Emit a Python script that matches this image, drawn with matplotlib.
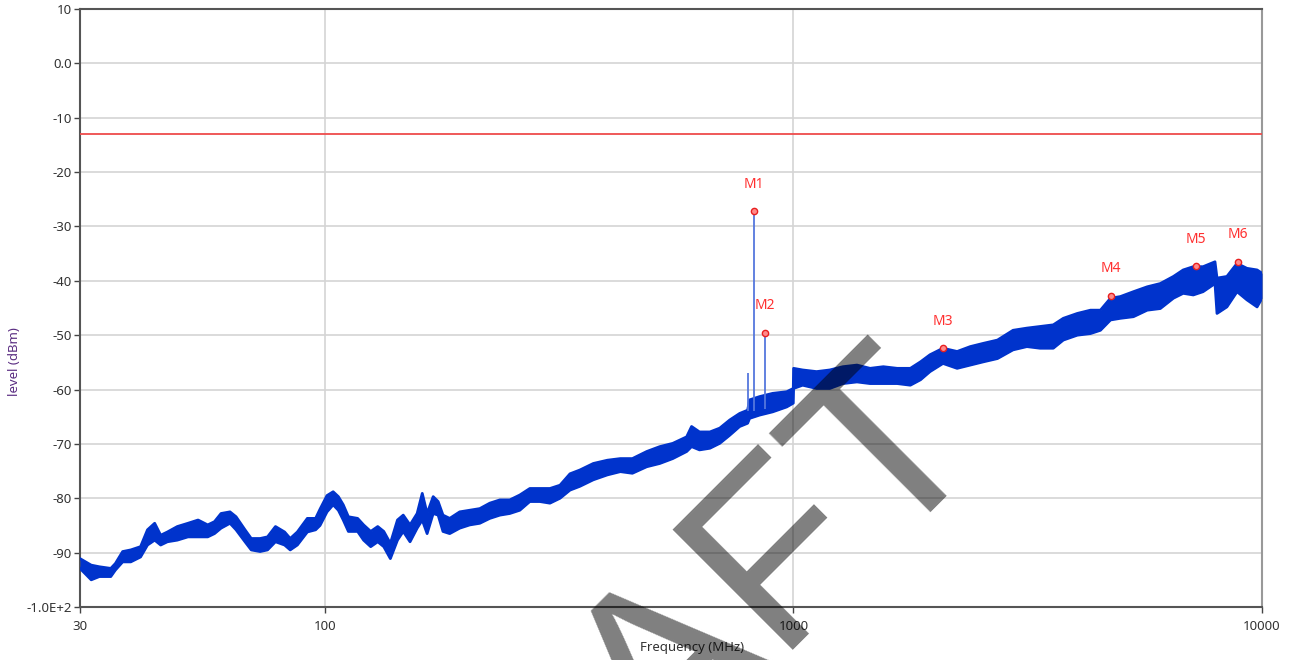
import matplotlib
matplotlib.use("Agg")
import matplotlib.pyplot as plt

# ---------------- data ----------------
freq_mhz = [30.0, 31.7, 33.0, 34.9, 35.7, 37.0, 38.5, 40.4, 41.8, 43.3, 44.6, 46.1,
            48.4, 51.0, 53.6, 56.2, 58.1, 60.0, 62.7, 64.6, 67.5, 69.6, 72.7, 75.4,
            78.4, 82.0, 84.3, 87.3, 91.7, 95.5, 97.6, 101.0, 104.1, 106.8, 109.4,
            112.2, 117.4, 120.9, 125.2, 129.6, 133.5, 137.9, 142.8, 146.9, 151.9,
            157.3, 161.3, 165.2, 170.2, 174.4, 178.6, 184.6, 193.9, 203.7, 214.0,
            224.8, 236.2, 248.0, 260.5, 273.7, 287.5, 302.1, 317.4, 333.4, 350.0,
            373.9, 400.6, 427.0, 453.0, 486.1, 518.3, 552.5, 591.5, 606.0, 630.1,
            663.0, 695.9, 731.0, 767.5, 798.2, 806.0, 846.4, 903.0, 967.2, 999.0,
            1000.5, 1046, 1120, 1195, 1275, 1366, 1457, 1555, 1665, 1776, 1867,
            1956, 2085, 2235, 2384, 2543, 2725, 2942, 3149, 3360, 3585, 3766, 4035,
            4305, 4520, 4750, 4984, 5316, 5689, 6066, 6470, 6789, 7134, 7485, 7937,
            8016, 8415, 8846, 9285, 9761, 10000]
level_upper = [-91.1, -92.3, -92.6, -92.9, -92.0, -89.8, -89.5, -88.9, -85.8, -84.6, -86.8, -86.2,
               -85.2, -84.6, -84.0, -84.9, -84.3, -82.8, -82.5, -83.4, -85.8, -87.4, -87.4, -87.1,
               -85.2, -86.2, -87.4, -86.2, -83.7, -83.7, -82.0, -79.5, -78.8, -79.7, -81.2,
               -83.4, -83.7, -84.9, -86.1, -85.2, -86.1, -88.3, -84.0, -83.1, -84.9,
               -82.8, -79.1, -82.8, -79.7, -80.6, -83.1, -83.7, -82.5, -82.2, -81.9,
               -80.9, -80.3, -80.3, -79.4, -78.2, -78.2, -78.2, -77.6, -75.5, -74.8,
               -73.6, -73.0, -72.7, -72.7, -71.4, -70.5, -69.9, -68.7, -66.8, -67.8,
               -67.8, -67.1, -65.6, -64.4, -63.8, -61.9, -61.3, -60.7, -60.4, -59.8,
               -56.1, -56.4, -56.7, -56.4, -55.8, -55.5, -56.1, -55.8, -56.1, -56.1, -54.9,
               -53.6, -52.4, -53.0, -52.1, -51.5, -50.9, -49.1, -48.7, -48.4, -48.1, -46.9, -46.0,
               -45.4, -45.4, -43.2, -42.9, -42.0, -41.1, -40.5, -39.2, -38.0, -37.4, -37.4, -36.5,
               -39.5, -39.2, -36.8, -37.7, -38.0, -38.6]
level_lower = [-92.9, -95.0, -94.4, -94.4, -93.2, -91.7, -91.7, -90.8, -88.6, -87.7, -88.6, -88.0,
               -87.7, -87.1, -87.1, -87.1, -86.5, -85.5, -84.6, -85.8, -88.0, -89.5, -89.8, -89.5,
               -88.0, -88.6, -89.5, -88.6, -86.2, -85.8, -85.0, -82.5, -81.2, -82.2, -84.0,
               -86.1, -86.1, -87.7, -88.9, -88.0, -88.9, -91.1, -87.7, -86.1, -88.0,
               -85.5, -84.0, -86.5, -82.8, -83.1, -86.1, -86.5, -85.5, -84.9, -84.6,
               -83.7, -83.1, -82.8, -82.2, -80.6, -80.6, -80.9, -80.0, -78.5, -77.8,
               -76.6, -75.7, -75.1, -75.4, -74.2, -73.6, -72.7, -71.4, -70.5, -71.1,
               -70.8, -69.9, -68.4, -66.8, -66.2, -65.3, -64.7, -64.1, -63.2, -62.5,
               -59.8, -59.2, -59.8, -59.8, -58.9, -58.6, -58.9, -58.9, -58.9, -59.2, -58.2,
               -56.7, -55.2, -56.1, -55.5, -54.9, -54.3, -52.7, -52.1, -52.4, -52.4, -50.9, -50.0,
               -49.7, -49.1, -47.2, -46.9, -46.6, -45.4, -45.1, -43.2, -42.3, -42.6, -42.0, -40.5,
               -46.0, -44.8, -42.0, -43.5, -44.8, -43.2]

spike_freq = [800.7, 822.6, 869.5]
spike_top = [-57.0, -27.2, -49.6]
spike_base = [-64.0, -64.0, -63.5]

marker_names = ["M1", "M2", "M3", "M4", "M5", "M6"]
marker_freq = [822.6, 869.5, 2085, 4762, 7231, 8887]
marker_level = [-27.2, -49.6, -52.4, -42.8, -37.3, -36.5]

limit_level = -13.0

x_ticks = [30, 100, 1000, 10000]
x_tick_labels = ["30", "100", "1000", "10000"]
y_ticks = [10, 0, -10, -20, -30, -40, -50, -60, -70, -80, -90, -100]
y_tick_labels = ["10", "0.0", "-10", "-20", "-30", "-40", "-50", "-60", "-70", "-80", "-90", "-1.0E+2"]

# ---------------- figure ----------------
plt.rcParams['font.family'] = ['Noto Sans', 'DejaVu Sans']
fig = plt.figure(figsize=(12.89, 6.60), dpi=100)
ax = fig.add_axes([80 / 1289, 1 - 607 / 660, (1262 - 80) / 1289, (607 - 9) / 660])

ax.set_xscale('log')
ax.set_xlim(30, 10000)
ax.set_ylim(-100, 10)

trace_col = '#0033cc'
ax.fill_between(freq_mhz, level_lower, level_upper, color=trace_col, lw=0, zorder=3)
ax.plot(freq_mhz, level_upper, color=trace_col, lw=2.0, zorder=3)
ax.plot(freq_mhz, level_lower, color=trace_col, lw=2.0, zorder=3)
ax.vlines(spike_freq, spike_base, spike_top, color='#5577dd', lw=1.3, zorder=3)

ax.axhline(limit_level, color='#ee4b4b', lw=1.3, zorder=4)

ax.plot(marker_freq, marker_level, 'o', ms=4.5, mfc='#ff8a8a', mec='#e82020', mew=1.0, zorder=5)
for name, f, lv in zip(marker_names, marker_freq, marker_level):
    ax.annotate(name, (f, lv), xytext=(0, 19.5), textcoords='offset points',
                ha='center', va='center', color='#ff3030', fontsize=10, zorder=6)

ax.set_xticks(x_ticks)
ax.set_xticklabels(x_tick_labels)
ax.xaxis.set_minor_locator(matplotlib.ticker.NullLocator())
ax.set_yticks(y_ticks)
ax.set_yticklabels(y_tick_labels)
ax.tick_params(axis='both', direction='out', length=4, width=1, color='#444444',
               labelcolor='#333333', labelsize=9.5)
ax.tick_params(axis='x', pad=5)
ax.tick_params(axis='y', pad=2)

ax.grid(True, which='major', color='#d4d4d4', lw=1.2, zorder=0)
ax.set_axisbelow(True)

for side in ['left', 'bottom', 'top']:
    ax.spines[side].set_color('#555555')
    ax.spines[side].set_linewidth(1.5)
ax.spines['right'].set_color('#999999')
ax.spines['right'].set_linewidth(1.5)

fig.text(14 / 1289, 1 - 362 / 660, 'level (dBm)', rotation=90, ha='center', va='center',
         color='#5a2d82', fontsize=9.5)
fig.text(692 / 1289, 1 - 648 / 660, 'Frequency (MHz)', ha='center', va='center',
         color='#333333', fontsize=9.5)

# watermark
fig.text(405 / 1289, -358 / 660, 'DRAFT', rotation=45, rotation_mode='anchor',
         ha='left', va='baseline', fontsize=178, family='Liberation Sans',
         color='black', alpha=0.5, zorder=10)

fig.savefig('out.png', dpi=100)
